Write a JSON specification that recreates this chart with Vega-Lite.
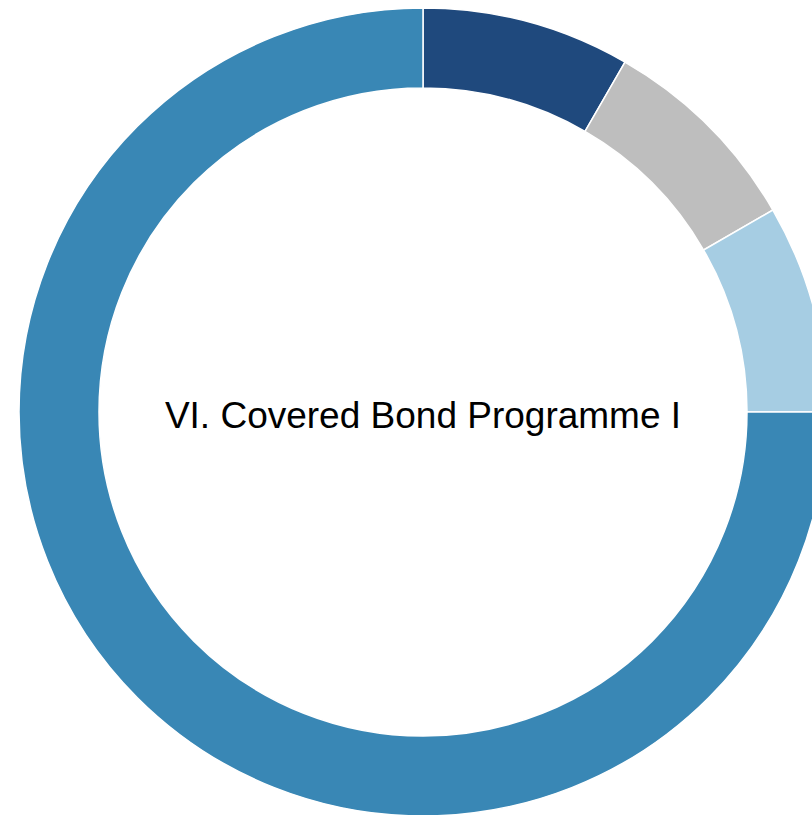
{
  "$schema": "https://vega.github.io/schema/vega-lite/v6.json",
  "autosize": "none",
  "width": 778,
  "height": 806,
  "padding": {"left": 34, "top": 9, "right": 0, "bottom": 0},
  "background": "white",
  "config": {"view": {"stroke": null}},
  "layer": [
    {
      "data": {"values": [
        {"segment": "A", "value": 1, "rank": 1},
        {"segment": "B", "value": 1, "rank": 2},
        {"segment": "C", "value": 1, "rank": 3},
        {"segment": "D", "value": 9, "rank": 4}
      ]},
      "mark": {"type": "arc", "outerRadius": 404, "innerRadius": 324, "stroke": "white", "strokeWidth": 1.5},
      "encoding": {
        "theta": {"field": "value", "type": "quantitative", "stack": true},
        "order": {"field": "rank", "type": "quantitative"},
        "color": {
          "field": "segment",
          "type": "nominal",
          "scale": {"domain": ["A", "B", "C", "D"], "range": ["#1f497d", "#bebebe", "#a6cde3", "#3987b5"]},
          "legend": null
        }
      }
    },
    {
      "data": {"values": [{"label": "VI. Covered Bond Programme I"}]},
      "mark": {"type": "text", "fontSize": 37, "font": "Liberation Sans", "color": "black", "align": "center", "baseline": "middle", "dy": 5},
      "encoding": {"text": {"field": "label", "type": "nominal"}}
    }
  ]
}
